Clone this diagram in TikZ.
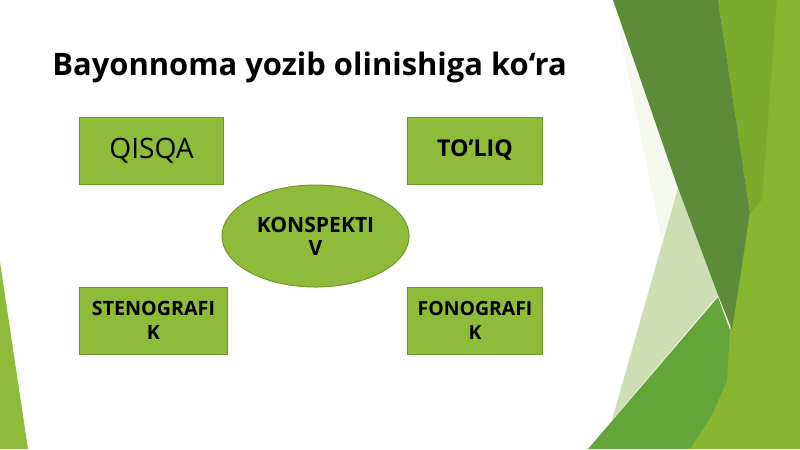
\documentclass[tikz,border=0pt]{standalone}
\usepackage{fontspec}
\setmainfont{Open Sans}
\usepackage{tikz}
\usetikzlibrary{shapes.geometric}
\definecolor{boxgreen}{RGB}{143,187,58}
\definecolor{boxline}{RGB}{112,150,44}
\definecolor{darkband}{RGB}{92,140,58}
\definecolor{midband}{RGB}{98,166,58}
\definecolor{limeband}{RGB}{136,182,48}
\definecolor{limedark}{RGB}{124,171,44}
\definecolor{paleband}{RGB}{205,222,178}
\definecolor{faintband}{RGB}{244,248,238}

\begin{document}
\begin{tikzpicture}[x=0.025cm,y=-0.025cm,
    box/.style={draw=boxline, line width=0.7pt, fill=boxgreen, inner sep=0pt, align=center, minimum height=1.675cm},
    oval/.style={ellipse, draw=boxline, line width=0.7pt, fill=boxgreen, inner sep=0pt, align=center, minimum width=4.675cm, minimum height=2.55cm}]
      \useasboundingbox (0,0) rectangle (800,449);
      % background shapes
      \fill[limeband] (718,0) -- (800,0) -- (800,449) -- (690,449) -- (730,330) -- (750,213) -- cycle;
      \fill[limedark] (718,0) -- (777,0) -- (762,200) -- (750,213) -- cycle;
      \fill[faintband] (613,0) -- (622,0) -- (678,188) -- (662,240) -- cycle;
      \fill[paleband] (678,188) -- (718,295) -- (612,420) -- cycle;
      \fill[darkband] (613,0) -- (718,0) -- (750,213) -- (732,330) -- (718,295) -- (678,188) -- cycle;
      \fill[midband] (588,449) -- (718,297) -- (730,330) -- (727,380) -- (712,415) -- (690,449) -- cycle;
      \fill[boxgreen] (0,262) -- (28,449) -- (0,449) -- cycle;
      % title
      \node[anchor=base west, inner sep=0pt, font=\fontsize{22}{26}\selectfont\bfseries] (title) at (52,75) {Bayonnoma yozib olinishiga ko‘ra};
      % boxes
      \node[box, minimum width=3.575cm, font=\fontsize{20}{24}\selectfont] (qisqa) at (151.5,150.5) {QISQA};
      \node[box, minimum width=3.35cm, font=\fontsize{16.5}{20}\selectfont\bfseries] (toliq) at (475,150.5) {TO’LIQ};
      \node[oval, font=\fontsize{15}{16.5}\selectfont\bfseries] (konsp) at (315.5,236) {KONSPEKTI\\V};
      \node[box, minimum width=3.675cm, font=\fontsize{14}{17.5}\selectfont\bfseries] (steno) at (153.5,320.5) {STENOGRAFI\\K};
      \node[box, minimum width=3.35cm, font=\fontsize{13.8}{17.5}\selectfont\bfseries] (fono) at (475,320.5) {FONOGRAFI\\K};
\end{tikzpicture}
\end{document}
